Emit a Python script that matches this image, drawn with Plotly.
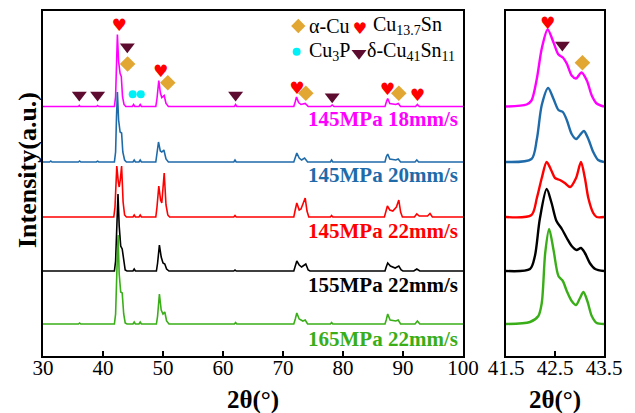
import plotly.graph_objects as go

W, H = 635, 413
FONT = "Liberation Serif"

names = ["145MPa 18mm/s", "145MPa 20mm/s", "145MPa 22mm/s", "155MPa 22mm/s", "165MPa 22mm/s"]
colors = ["#FF00FF", "#1F6BAA", "#FF0000", "#000000", "#3AAE18"]
offsets = [249.5, 194.0, 139.0, 85.0, 32.0]          # stacking offset (a.u.)
label_y = [237, 181, 125, 71, 17]                      # series label height (a.u.)

# ---- full-range patterns: (2theta, intensity above own baseline) ----
m_full = [(30, 0), (35.9, 0), (36.05, 1), (36.2, 0), (38.9, 0), (39.1, 1), (39.3, 0), (41.9, 0), (42.1, 10),
          (42.25, 45), (42.4, 72), (42.6, 45), (42.85, 33), (43.05, 30), (43.25, 10), (43.5, 2), (43.8, 0),
          (44.9, 0), (45.1, 2), (45.3, 0), (46.0, 0), (46.2, 2), (46.4, 0), (48.8, 0), (49.0, 8), (49.3, 26),
          (49.55, 14), (49.8, 9), (50.2, 11), (50.5, 3), (50.9, 0), (61.9, 0), (62.1, 2), (62.3, 0), (71.8, 0),
          (72.05, 5), (72.25, 9.5), (72.6, 4), (73.0, 2), (73.7, 3), (74.2, 0), (77.9, 0), (78.2, 1.5), (78.5, 0),
          (87.0, 0), (87.25, 5), (87.45, 8), (87.8, 3), (88.8, 2), (89.2, 3), (89.6, 0), (92.1, 0), (92.4, 2),
          (92.7, 0), (100, 0)]
b_full = [(30, 0), (31.1, 0), (31.3, 1), (31.5, 0), (35.9, 0), (36.1, 1), (36.3, 0), (38.9, 0), (39.1, 0.8),
          (39.3, 0), (41.9, 0), (42.1, 10), (42.25, 45), (42.4, 70), (42.6, 42), (42.85, 30), (43.1, 29),
          (43.3, 10), (43.6, 2), (43.9, 0), (45.0, 0), (45.2, 2), (45.4, 0), (46.0, 0), (46.2, 2), (46.4, 0),
          (48.8, 0), (49.0, 8), (49.25, 20), (49.55, 11), (49.8, 10), (50.15, 12), (50.5, 3), (50.9, 0),
          (61.8, 0), (62.0, 2), (62.2, 0), (71.8, 0), (72.05, 5), (72.3, 9), (72.7, 4), (73.1, 2), (73.6, 4),
          (74.1, 0), (77.9, 0), (78.1, 2), (78.3, 0), (87.0, 0), (87.2, 5), (87.45, 8), (87.8, 3), (88.8, 2),
          (89.2, 3), (89.6, 0), (92.0, 0), (92.3, 2), (92.6, 0), (100, 0)]
r_full = [(30, 0), (41.8, 0), (42.0, 10), (42.3, 51), (42.55, 35), (42.7, 30), (42.9, 38), (43.1, 51),
          (43.35, 15), (43.6, 2), (43.9, 0), (45.0, 0), (45.2, 2), (45.4, 0), (46.0, 0), (46.2, 2), (46.4, 0),
          (48.8, 0), (49.0, 10), (49.3, 31), (49.6, 17), (49.8, 14), (50.2, 44), (50.5, 12), (50.8, 2),
          (51.1, 0), (61.8, 0), (62.0, 1.5), (62.2, 0), (71.8, 0), (72.0, 6), (72.3, 14), (72.7, 7), (73.0, 8),
          (73.7, 19), (74.0, 6), (74.3, 0), (77.9, 0), (78.1, 1.5), (78.3, 0), (86.9, 0), (87.1, 5), (87.4, 11),
          (87.8, 7), (88.3, 6), (88.9, 10), (89.3, 17), (89.6, 5), (89.9, 0), (91.9, 0), (92.3, 3), (92.7, 1),
          (94.1, 1), (94.5, 3.5), (94.9, 0), (100, 0)]
k_full = [(30, 0), (41.9, 0), (42.1, 10), (42.3, 45), (42.5, 77), (42.7, 45), (42.95, 25), (43.2, 22),
          (43.45, 8), (43.7, 1), (44.0, 0), (45.0, 0), (45.2, 2), (45.4, 0), (48.9, 0), (49.1, 8), (49.4, 26),
          (49.7, 14), (50.0, 8), (50.3, 7), (50.6, 2), (51.0, 0), (61.8, 0), (62.0, 1), (62.2, 0), (71.8, 0),
          (72.05, 5), (72.3, 10), (72.7, 6), (73.1, 4), (73.8, 7), (74.2, 1), (74.5, 0), (87.0, 0), (87.2, 4),
          (87.45, 8), (87.9, 5), (88.7, 3), (89.3, 5), (89.7, 1), (90.0, 0), (91.8, 0), (92.3, 2), (92.8, 0),
          (100, 0)]
g_full = [(30, 0), (35.9, 0), (36.1, 1), (36.3, 0), (41.9, 0), (42.1, 10), (42.3, 50), (42.5, 89), (42.7, 50),
          (42.95, 32), (43.2, 31), (43.45, 10), (43.7, 1), (44.0, 0), (45.0, 0), (45.2, 2), (45.4, 0), (46.0, 0),
          (46.2, 2), (46.4, 0), (48.9, 0), (49.1, 8), (49.4, 30), (49.7, 14), (50.0, 10), (50.3, 12), (50.6, 3),
          (51.0, 0), (61.9, 0), (62.1, 1.5), (62.3, 0), (71.8, 0), (72.05, 5), (72.3, 11), (72.7, 5), (73.3, 3),
          (73.7, 4), (74.1, 0), (77.9, 0), (78.1, 1.5), (78.3, 0), (87.0, 0), (87.2, 4), (87.45, 10), (87.85, 4),
          (88.8, 3), (89.2, 4), (89.6, 0), (92.0, 0), (92.4, 3), (92.8, 0), (100, 0)]

# ---- zoomed 41.5-43.5 region ----
m_zoom = [(41.5, 0), (41.92, 2), (42.02, 6), (42.13, 28), (42.23, 58), (42.35, 77), (42.47, 64), (42.57, 52),
          (42.66, 49), (42.74, 43), (42.84, 31), (42.93, 28), (43.04, 34), (43.15, 26), (43.25, 11), (43.35, 3),
          (43.5, 0)]
b_zoom = [(41.5, 0), (42.02, 3), (42.13, 23), (42.23, 57), (42.36, 74), (42.47, 63), (42.57, 52), (42.66, 50),
          (42.74, 42), (42.84, 28), (42.93, 23), (43.01, 27), (43.09, 31), (43.18, 23), (43.28, 10), (43.38, 2),
          (43.5, 0)]
r_zoom = [(41.5, 0), (42.02, 2), (42.13, 19), (42.23, 39), (42.33, 55), (42.43, 46), (42.5, 39), (42.6, 37),
          (42.7, 34), (42.81, 30), (42.93, 39), (43.03, 55), (43.11, 39), (43.18, 19), (43.28, 4), (43.35, 0),
          (43.5, 0)]
k_zoom = [(41.5, 0), (41.99, 2), (42.09, 15), (42.19, 52), (42.33, 82), (42.43, 68), (42.53, 50), (42.64, 42),
          (42.74, 33), (42.84, 25), (42.94, 21), (43.03, 23), (43.11, 18), (43.21, 8), (43.32, 2), (43.5, 0)]
g_zoom = [(41.5, 0), (41.99, 2), (42.16, 8), (42.23, 21), (42.30, 71), (42.38, 95), (42.47, 74), (42.57, 48),
          (42.66, 43), (42.74, 33), (42.84, 23), (42.93, 19), (43.01, 26), (43.08, 32), (43.16, 23), (43.25, 8),
          (43.35, 1), (43.5, 0)]

full_patterns = [m_full, b_full, r_full, k_full, g_full]
zoom_patterns = [m_zoom, b_zoom, r_zoom, k_zoom, g_zoom]

# ---- phase markers (2theta, a.u.) ----
heart_x = [42.7, 49.6, 72.3, 87.4, 92.4]
heart_y = [329, 283.7, 266.3, 265.7, 259]
diamond_x = [44.1, 50.8, 73.8, 89.3]
diamond_y = [292, 273.3, 262.7, 262.7]
tri_x = [44.05, 36.05, 39.1, 62.1, 78.2]
tri_y = [309.3, 261, 261, 261, 259.3]
cyan_x = [44.95, 46.3]
cyan_y = [261.7, 261.7]
zheart = (42.35, 331)
ztri = (42.65, 311)
zdiamond = (43.06, 293.3)

# legend
leg_marker_x = [72.55, 82.83, 72.28, 82.67]
leg_marker_y = [330, 326.5, 304.3, 302.7]
leg_text = ["α-Cu", "Cu<sub>13.7</sub>Sn", "Cu<sub>3</sub>P", "δ-Cu<sub>41</sub>Sn<sub>11</sub>"]
leg_text_x = [73.95, 84.6, 73.95, 83.67]
leg_text_y = [330, 330, 304.5, 304.5]

HEART_C, DIAM_C, TRI_C, CYAN_C = "#FF0000", "#E2A633", "#5E0B30", "#00F0F8"

fig = go.Figure()
for pat, off, c in zip(full_patterns, offsets, colors):
    fig.add_trace(go.Scatter(x=[p[0] for p in pat], y=[p[1] + off for p in pat], mode="lines",
                             line=dict(color=c, width=1.6), xaxis="x", yaxis="y", hoverinfo="skip"))
for pat, off, c in zip(zoom_patterns, offsets, colors):
    fig.add_trace(go.Scatter(x=[p[0] for p in pat], y=[p[1] + off for p in pat], mode="lines",
                             line=dict(color=c, width=2.4, shape="spline", smoothing=0.8),
                             xaxis="x2", yaxis="y2", hoverinfo="skip"))

def heart(x, y, ax, ay, size):
    fig.add_trace(go.Scatter(x=x, y=y, mode="text", text=["♥"] * len(x),
                             textfont=dict(color=HEART_C, size=size, family="DejaVu Sans"),
                             textposition="middle center", xaxis=ax, yaxis=ay, hoverinfo="skip"))

def sym(x, y, ax, ay, symbol, color, size):
    fig.add_trace(go.Scatter(x=x, y=y, mode="markers",
                             marker=dict(symbol=symbol, color=color, size=size, line=dict(width=0)),
                             xaxis=ax, yaxis=ay, hoverinfo="skip"))

heart(heart_x, heart_y, "x", "y", 17)
sym(diamond_x, diamond_y, "x", "y", "diamond", DIAM_C, 12)
sym(tri_x, tri_y, "x", "y", "triangle-down", TRI_C, 13)
sym(cyan_x, cyan_y, "x", "y", "circle", CYAN_C, 8)
heart([zheart[0]], [zheart[1]], "x2", "y2", 17)
sym([ztri[0]], [ztri[1]], "x2", "y2", "triangle-down", TRI_C, 13)
sym([zdiamond[0]], [zdiamond[1]], "x2", "y2", "diamond", DIAM_C, 12)

# legend markers
sym([leg_marker_x[0]], [leg_marker_y[0]], "x", "y", "diamond", DIAM_C, 11)
heart([leg_marker_x[1]], [leg_marker_y[1]], "x", "y", 16)
sym([leg_marker_x[2]], [leg_marker_y[2]], "x", "y", "circle", CYAN_C, 8)
sym([leg_marker_x[3]], [leg_marker_y[3]], "x", "y", "triangle-down", TRI_C, 13)

ann = []
for t, x, y in zip(leg_text, leg_text_x, leg_text_y):
    ann.append(dict(x=x, y=y, xref="x", yref="y", text=t, showarrow=False, xanchor="left", yanchor="middle",
                    font=dict(family=FONT, size=20, color="black")))
for n, c, y in zip(names, colors, label_y):
    ann.append(dict(x=99.5, y=y, xref="x", yref="y", text="<b>" + n + "</b>", showarrow=False,
                    xanchor="right", yanchor="middle", font=dict(family=FONT, size=21, color=c)))
ann.append(dict(x=27 / W, y=(H - 170) / H, xref="paper", yref="paper", text="<b>Intensity(a.u.)</b>",
                textangle=-90, showarrow=False, xanchor="center", yanchor="middle",
                font=dict(family=FONT, size=26, color="black")))
ann.append(dict(x=253 / W, y=(H - 400) / H, xref="paper", yref="paper", text="<b>2θ(°)</b>",
                showarrow=False, xanchor="center", yanchor="middle", font=dict(family=FONT, size=25, color="black")))
ann.append(dict(x=555 / W, y=(H - 400) / H, xref="paper", yref="paper", text="<b>2θ(°)</b>",
                showarrow=False, xanchor="center", yanchor="middle", font=dict(family=FONT, size=25, color="black")))

axis_common = dict(showline=True, mirror=True, linewidth=2, linecolor="black", showgrid=False, zeroline=False,
                   automargin=False)
ydom = [(H - 356) / H, (H - 11) / H]
fig.update_layout(
    width=W, height=H, margin=dict(l=0, r=0, t=0, b=0, autoexpand=False), showlegend=False,
    paper_bgcolor="white", plot_bgcolor="white",
    xaxis=dict(domain=[43 / W, 463 / W], range=[30, 100], tickvals=list(range(30, 101, 10)), ticks="inside",
               ticklen=5, tickwidth=2, tickcolor="black", anchor="y", ticklabelstandoff=-8,
               tickfont=dict(family=FONT, size=21, color="black"), **axis_common),
    yaxis=dict(domain=ydom, range=[0, 345], showticklabels=False, ticks="", anchor="x", **axis_common),
    xaxis2=dict(domain=[506 / W, 604 / W], range=[41.5, 43.5], tickvals=[41.5, 42.5, 43.5], ticks="inside",
                ticklen=5, tickwidth=2, tickcolor="black", anchor="y2", ticklabelstandoff=-8,
                tickfont=dict(family=FONT, size=21, color="black"), **axis_common),
    yaxis2=dict(domain=ydom, range=[0, 345], showticklabels=False, ticks="", anchor="x2", **axis_common),
    annotations=ann,
)
fig.write_html("out.html")
